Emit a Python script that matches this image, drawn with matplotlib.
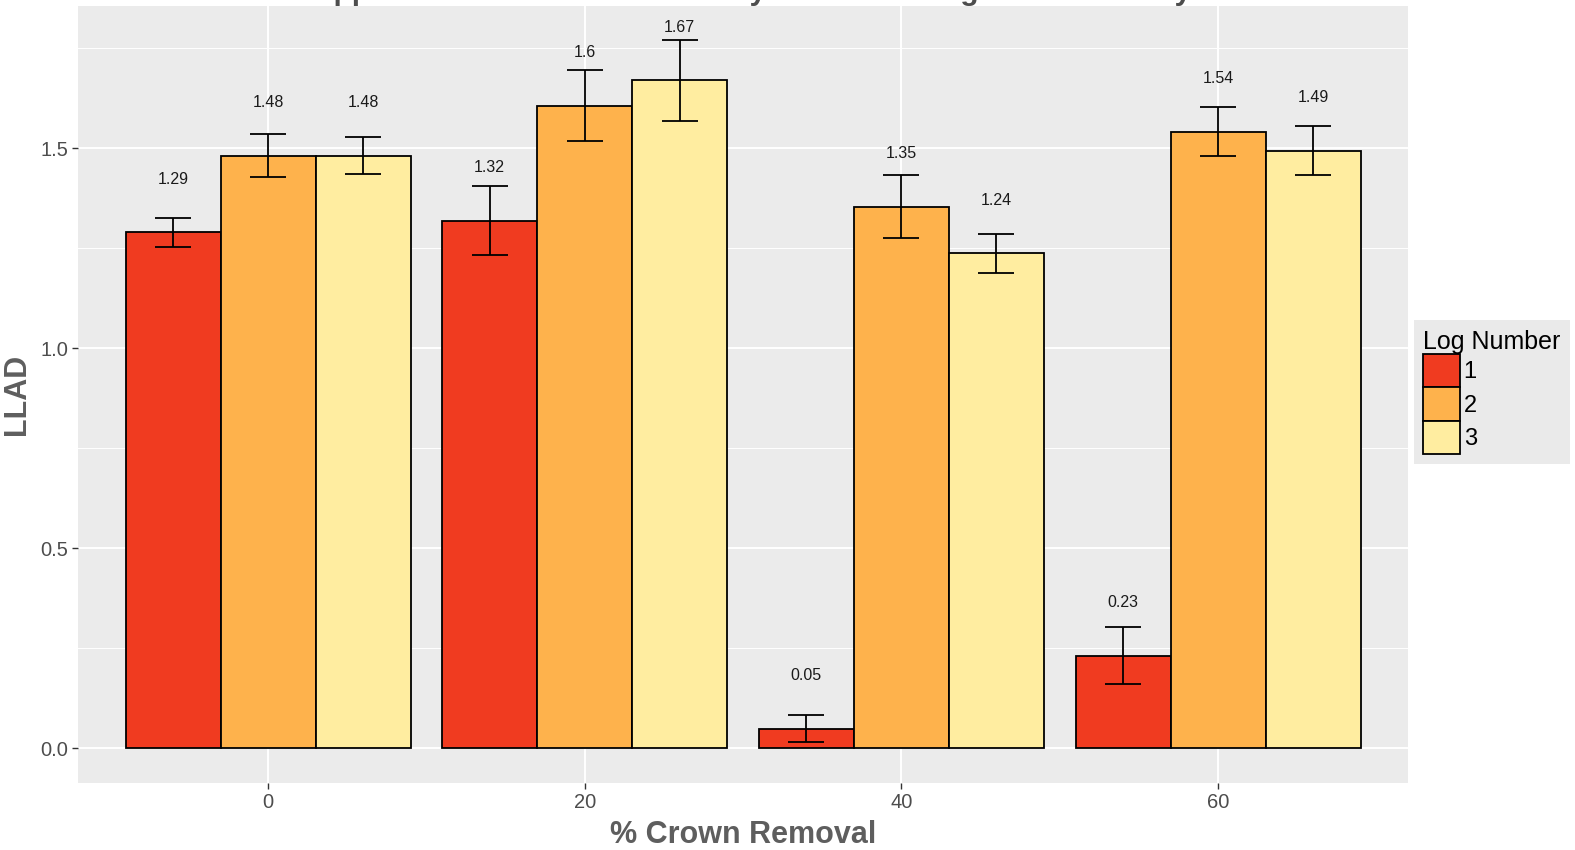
import numpy as np
import matplotlib
matplotlib.use("Agg")
import matplotlib.pyplot as plt
from matplotlib.patches import Patch

plt.rcParams['font.family'] = ['Liberation Sans', 'DejaVu Sans']

# ---- data ----
crown_removal = ["0", "20", "40", "60"]
log_numbers = ["1", "2", "3"]
llad_log1 = [1.290, 1.319, 0.048, 0.231]
llad_log2 = [1.482, 1.607, 1.354, 1.542]
llad_log3 = [1.482, 1.670, 1.237, 1.494]
se_log1 = [0.036, 0.086, 0.034, 0.071]
se_log2 = [0.053, 0.088, 0.079, 0.062]
se_log3 = [0.047, 0.102, 0.048, 0.061]
label_log1 = ["1.29", "1.32", "0.05", "0.23"]
label_log2 = ["1.48", "1.6", "1.35", "1.54"]
label_log3 = ["1.48", "1.67", "1.24", "1.49"]
title_text = "Upper Crown Removal Effect by LLAD and Log Number Study"

colors = ["#F03B20", "#FEB24C", "#FFEDA0"]
values = [llad_log1, llad_log2, llad_log3]
errors = [se_log1, se_log2, se_log3]
labels = [label_log1, label_log2, label_log3]

W, H = 1575, 850
fig = plt.figure(figsize=(W / 100, H / 100), dpi=100)
ax = fig.add_axes([78 / W, (H - 783) / H, (1408 - 78) / W, (783 - 6) / H])
ax.set_facecolor("#EBEBEB")
for s in ax.spines.values():
    s.set_visible(False)

x = np.arange(len(crown_removal))
bw = 0.3
for i in range(3):
    xs = x + (i - 1) * bw
    ax.bar(xs, values[i], width=bw, color=colors[i], edgecolor="black",
           linewidth=1.3, zorder=3)
    ax.errorbar(xs, values[i], yerr=errors[i], fmt="none", ecolor="black",
                elinewidth=1.3, capsize=13, capthick=1.3, zorder=4)
    for xx, v, t in zip(xs, values[i], labels[i]):
        ax.text(xx, v + 0.133, t, ha="center", va="center", fontsize=11.5,
                color="#1a1a1a", zorder=5)

ax.set_xlim(-0.6, 3.6)
ax.set_ylim(-0.0875, 1.856)
ax.set_xticks(x)
ax.set_xticklabels(crown_removal)
ax.set_yticks([0.0, 0.5, 1.0, 1.5])
ax.set_yticklabels(["0.0", "0.5", "1.0", "1.5"])
ax.set_yticks([0.25, 0.75, 1.25, 1.75], minor=True)
ax.grid(True, which="major", color="white", linewidth=1.4, zorder=0)
ax.grid(True, which="minor", axis="y", color="white", linewidth=0.7, zorder=0)
ax.set_axisbelow(True)
ax.tick_params(axis="both", which="major", length=4, width=1, color="#333333",
               labelsize=14.5, labelcolor="#4D4D4D", pad=3)
ax.tick_params(axis="both", which="minor", length=0)

ax.set_xlabel("% Crown Removal", fontsize=22, fontweight="bold", color="#5E5E5E",
              labelpad=6)
ax.set_ylabel("LLAD", fontsize=22, fontweight="bold", color="#5E5E5E", labelpad=6)

fig.text(752 / W, 1.0, title_text, ha="center", va="baseline", fontsize=21.5,
         fontweight="bold", color="#4D4D4D")

handles = [Patch(facecolor=c, edgecolor="black", linewidth=1.3) for c in colors]
leg = fig.legend(handles, log_numbers, title="Log Number", loc="center left",
                 bbox_to_anchor=(1414 / W, (H - 392) / H), fontsize=17,
                 title_fontsize=18, frameon=True, fancybox=False,
                 handlelength=1.55, handleheight=1.8, handletextpad=0.15,
                 labelspacing=0.0, borderpad=0.4, borderaxespad=0)
leg.get_frame().set_facecolor("#E5E5E5")
leg.get_frame().set_edgecolor("none")
leg._legend_box.align = "left"

fig.savefig("out.png", dpi=100)
